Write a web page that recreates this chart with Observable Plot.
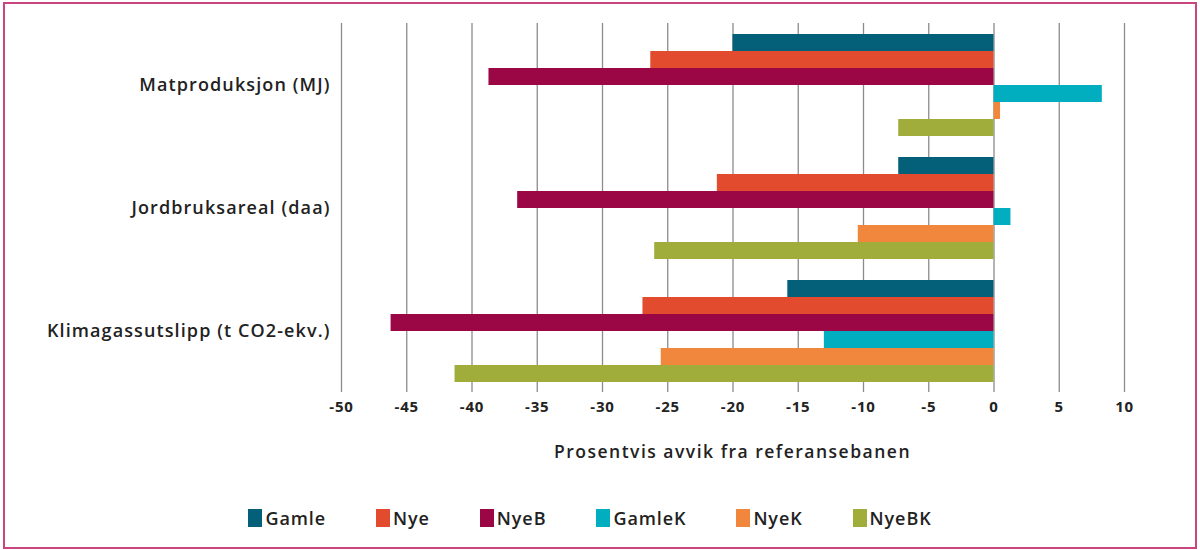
<!DOCTYPE html>
<html>
<head>
<meta charset="utf-8">
<script src="https://cdn.jsdelivr.net/npm/d3@7"></script>
<script src="https://cdn.jsdelivr.net/npm/@observablehq/plot@0.6"></script>
<style>
  html, body { margin: 0; padding: 0; background: #fff; }
  #wrap { position: relative; width: 1200px; height: 550px; overflow: hidden; font-family: "Open Sans", sans-serif; }
  #border { position: absolute; left: 3px; top: 2px; width: 1190px; height: 543px; border: 2px solid #c8457f; }
  #chart { position: absolute; left: 0; top: 0; }
  #chart svg g[aria-label="fy-axis tick label"] text { letter-spacing: 1.1px; }
  #chart svg g[aria-label="x-axis tick label"] text { letter-spacing: 0.8px; }
  #xlabel { position: absolute; left: 341px; width: 783px; top: 439px; text-align: center; font-size: 17.5px; font-weight: 600; color: #222; letter-spacing: 1.5px; }
  #legend { position: absolute; left: 0; width: 1180px; top: 506px; display: flex; justify-content: center; font-size: 18px; font-weight: 600; color: #222; letter-spacing: 0.9px; }
  .item { display: flex; align-items: center; margin: 0 25px; }
  .sw { width: 14px; height: 18px; margin-right: 3px; }
</style>
</head>
<body>
<div id="wrap">
  <div id="border"></div>
  <div id="chart"></div>
  <div id="xlabel">Prosentvis avvik fra referansebanen</div>
  <div id="legend"></div>
</div>
<script>
const categories = ["Matproduksjon (MJ)", "Jordbruksareal (daa)", "Klimagassutslipp (t CO2-ekv.)"];
const series = ["Gamle", "Nye", "NyeB", "GamleK", "NyeK", "NyeBK"];
const colors = ["#036078", "#e34b2f", "#9b0645", "#00aebf", "#f0873d", "#a0ad3a"];
const gamle  = [-20.0, -7.3, -15.8];
const nye    = [-26.3, -21.2, -26.9];
const nyeB   = [-38.7, -36.5, -46.2];
const gamleK = [8.3, 1.3, -13.0];
const nyeK   = [0.5, -10.4, -25.5];
const nyeBK  = [-7.3, -26.0, -41.3];
const xTicks = [-50, -45, -40, -35, -30, -25, -20, -15, -10, -5, 0, 5, 10];

const seriesValues = [gamle, nye, nyeB, gamleK, nyeK, nyeBK];
const data = [];
categories.forEach((c, ci) => {
  series.forEach((s, si) => {
    data.push({category: c, series: s, value: seriesValues[si][ci]});
  });
});

const chart = Plot.plot({
  width: 1200,
  height: 440,
  marginLeft: 341,
  marginRight: 76,
  marginTop: 22,
  marginBottom: 47,
  style: {fontFamily: "'Open Sans', sans-serif", color: "#222", background: "transparent"},
  x: {domain: [-50, 10], axis: null},
  y: {domain: series, paddingInner: 0, paddingOuter: 0.5, axis: null},
  fy: {domain: categories, padding: 0, axis: null},
  color: {domain: series, range: colors},
  marks: [
    Plot.ruleX(xTicks, {stroke: "#8c8c8c", strokeWidth: 1.3}),
    Plot.barX(data, {x: "value", y: "series", fy: "category", fill: "series"}),
    Plot.axisFy({anchor: "left", tickSize: 0, tickPadding: 11, fontSize: 18, fontWeight: 600, label: null}),
    Plot.axisX({ticks: xTicks, tickFormat: d => String(d), tickSize: 0, tickPadding: 9, fontSize: 15, fontWeight: 700, label: null})
  ]
});
document.getElementById("chart").appendChild(chart);

const legend = document.getElementById("legend");
series.forEach((s, i) => {
  const item = document.createElement("div");
  item.className = "item";
  const sw = document.createElement("div");
  sw.className = "sw";
  sw.style.background = colors[i];
  const t = document.createElement("span");
  t.textContent = s;
  item.appendChild(sw);
  item.appendChild(t);
  legend.appendChild(item);
});
</script>
</body>
</html>
